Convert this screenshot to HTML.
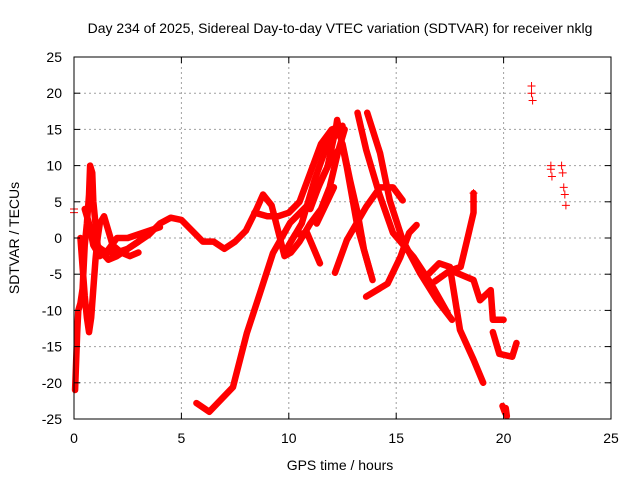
<!DOCTYPE html>
<html><head><meta charset="utf-8"><style>
body{margin:0;background:#fff}
svg text{font-family:"Liberation Sans",sans-serif;font-size:14px;fill:#000}
</style></head><body>
<svg id="chart" width="640" height="480" xmlns="http://www.w3.org/2000/svg">
<rect width="640" height="480" fill="#fff"/>
<text x="340" y="33" text-anchor="middle">Day 234 of 2025, Sidereal Day-to-day VTEC variation (SDTVAR) for receiver nklg</text>
<text x="340" y="470" text-anchor="middle">GPS time / hours</text>
<text transform="translate(19,238) rotate(-90)" text-anchor="middle">SDTVAR / TECUs</text>
<g id="grid"></g>
<g id="marks"></g>
<rect x="74" y="57" width="537" height="362" fill="none" stroke="#000" stroke-width="1"/>
<g id="ticks"></g>
</svg>
<script>
const xTicks=[0,5,10,15,20,25];
const yTicks=[25,20,15,10,5,0,-5,-10,-15,-20,-25];
const trackLow=[[5.7,-22.8],[6.3,-24],[7.4,-20.6],[8.05,-13.1],[8.66,-7.6],[9.26,-2.1],[10.06,2.1],[11.1,5.2],[11.8,9.8],[12.2,15.3],[12.25,16.3],[12.7,9.8],[13.2,1.5],[13.8,-4.8]];
const trackWave=[[1,-1],[1.5,-2],[2,-2],[2.5,-1.5],[3,-0.5],[3.5,0.5],[4,2],[4.5,2.8],[5,2.5],[5.5,1],[6,-0.5],[6.5,-0.5],[7,-1.5],[7.5,-0.5],[8,1],[8.5,4],[8.8,6],[9.2,4.5],[9.5,1],[9.8,-2.5],[10.1,-2],[10.5,-0.5],[11,2],[11.5,4],[11.9,7],[12.3,12],[12.6,15]];
const trackFlat=[[8.4,3.5],[9,3],[9.5,3],[10,3.5],[10.5,5],[11,9],[11.5,13],[12,15],[12.5,15.5]];
const trackRise1=[[10,-1],[10.6,2],[11.2,8],[11.8,13],[12.3,14.5]];
const trackRise2=[[11,4],[11.5,8],[12,11],[12.4,12.5]];
const trackRise3=[[11.3,2],[11.7,4.5],[12.1,7]];
const trackArc=[[9.9,-1.5],[10.3,0.5],[10.85,0.7],[11.45,-3.5]];
const trackFall1=[[13.2,17.3],[13.6,12.2],[14.2,6.2],[14.85,0.7],[15.8,-2.6],[16.6,-6.2],[17.4,-10.4]];
const trackFall2=[[13.65,17.3],[14.25,11.7],[14.7,5.2],[15.3,-0.3],[16.1,-4.8],[16.9,-8.6],[17.6,-11.3]];
const trackFall3=[[12.5,13],[12.85,8],[13.2,3.5],[13.5,-1.6],[13.9,-5.8]];
const trackUp1=[[13.6,-8.1],[14.6,-6.3],[15.2,-2.6],[15.6,0.7],[15.95,1.8]];
const trackUp2=[[12.15,-4.8],[12.7,-0.3],[13.6,4.3],[14.25,7],[14.85,7],[15.3,5.2]];
const trackUp3=[[16.8,-6],[17.5,-4.5],[18,-4],[18.3,-0.3],[18.6,3.5],[18.6,6.2]];
const trackDown=[[16.5,-5],[17,-3.5],[17.5,-4],[17.97,-12.7],[18.6,-16.8],[19.05,-20]];
const trackEnd1=[[17.8,-4.8],[18.6,-5.8],[18.9,-8.6],[19.4,-7.2],[19.5,-11.3],[20,-11.3]];
const trackEnd2=[[19.5,-13],[19.8,-16],[20.4,-16.4],[20.6,-14.5]];
const trackEarly1=[[0.05,-21],[0.1,-17],[0.15,-13],[0.2,-10],[0.3,-9],[0.4,-7],[0.45,-4],[0.5,-1],[0.6,2],[0.7,6],[0.75,10],[0.85,9],[0.9,5],[1.0,2],[1.1,-1],[1.3,-2],[1.6,-3],[2,-2.5],[2.5,-1.5],[3,-0.5],[3.3,0.5]];
const trackEarly2=[[0.3,0],[0.4,-4],[0.5,-8],[0.6,-11],[0.7,-13],[0.8,-11],[0.9,-7],[1.0,-3],[1.1,0],[1.2,2],[1.4,3],[1.6,1],[1.8,-1],[2.2,-2],[2.6,-2.5],[3,-2]];
const trackEarly3=[[0.5,4],[0.7,2],[0.9,-1],[1.2,-2.5],[1.5,-2],[2,0],[2.5,0],[3,0.5],[3.5,1],[4,1.5]];
const trackCluster=[[19.95,-23.2],[20.05,-24],[20.15,-24.6],[20.1,-23.5]];
const looseMarks=[[0,3.5],[0,4],[21.3,21],[21.3,20],[21.35,19],[22.2,10],[22.2,9.5],[22.25,8.5],[22.7,10],[22.75,9],[22.8,7],[22.85,6],[22.9,4.5],[18.6,6.2],[18.6,5]];
const tracks=[trackLow,trackWave,trackFlat,trackRise1,trackRise2,trackRise3,trackArc,trackFall1,trackFall2,trackFall3,trackUp1,trackUp2,trackUp3,trackDown,trackEnd1,trackEnd2,trackEarly1,trackEarly2,trackEarly3,trackCluster];
const NS='http://www.w3.org/2000/svg';
const X0=74,X1=611,Y0=419,Y1=57;
const xs=h=>X0+(h/25)*(X1-X0);
const ys=v=>Y0-((v+25)/50)*(Y0-Y1);
const grid=document.getElementById('grid'),ticks=document.getElementById('ticks'),marks=document.getElementById('marks');
function mk(tag,attrs,parent){const e=document.createElementNS(NS,tag);for(const k in attrs)e.setAttribute(k,attrs[k]);parent.appendChild(e);return e;}
xTicks.forEach(t=>{const x=xs(t);
 if(t>0&&t<25){const g=mk('line',{x1:x,x2:x,y1:Y1,y2:Y0,stroke:'#a0a0a0','stroke-dasharray':'2,3'},grid);}
 const l=mk('text',{x:x,y:443,'text-anchor':'middle'},ticks);l.textContent=t;
 
 
 mk('line',{x1:x,x2:x,y1:Y0,y2:Y0-6,stroke:'#000'},ticks);mk('line',{x1:x,x2:x,y1:Y1,y2:Y1+6,stroke:'#000'},ticks);
});
yTicks.forEach(t=>{const y=ys(t);
 if(t>-25&&t<25){const g=mk('line',{x1:X0,x2:X1,y1:y,y2:y,stroke:'#a0a0a0','stroke-dasharray':'2,3'},grid);}
 const l=mk('text',{x:62,y:y+5,'text-anchor':'end'},ticks);l.textContent=t;
 
 
 mk('line',{x1:X0,x2:X0+6,y1:y,y2:y,stroke:'#000'},ticks);mk('line',{x1:X1,x2:X1-6,y1:y,y2:y,stroke:'#000'},ticks);
});
tracks.forEach(tr=>{
 const p=mk('polyline',{points:tr.map(d=>xs(d[0])+','+ys(d[1])).join(' '),fill:'none',stroke:'#f00','stroke-width':6.5,'stroke-linejoin':'round','stroke-linecap':'round'},marks);
 
 
});
looseMarks.forEach(d=>{const x=xs(d[0]),y=ys(d[1]);
 const p=mk('path',{d:`M${x-4},${y}H${x+4}M${x},${y-4}V${y+4}`,stroke:'#f00','stroke-width':1},marks);
 
 
});
</script>
</body></html>
